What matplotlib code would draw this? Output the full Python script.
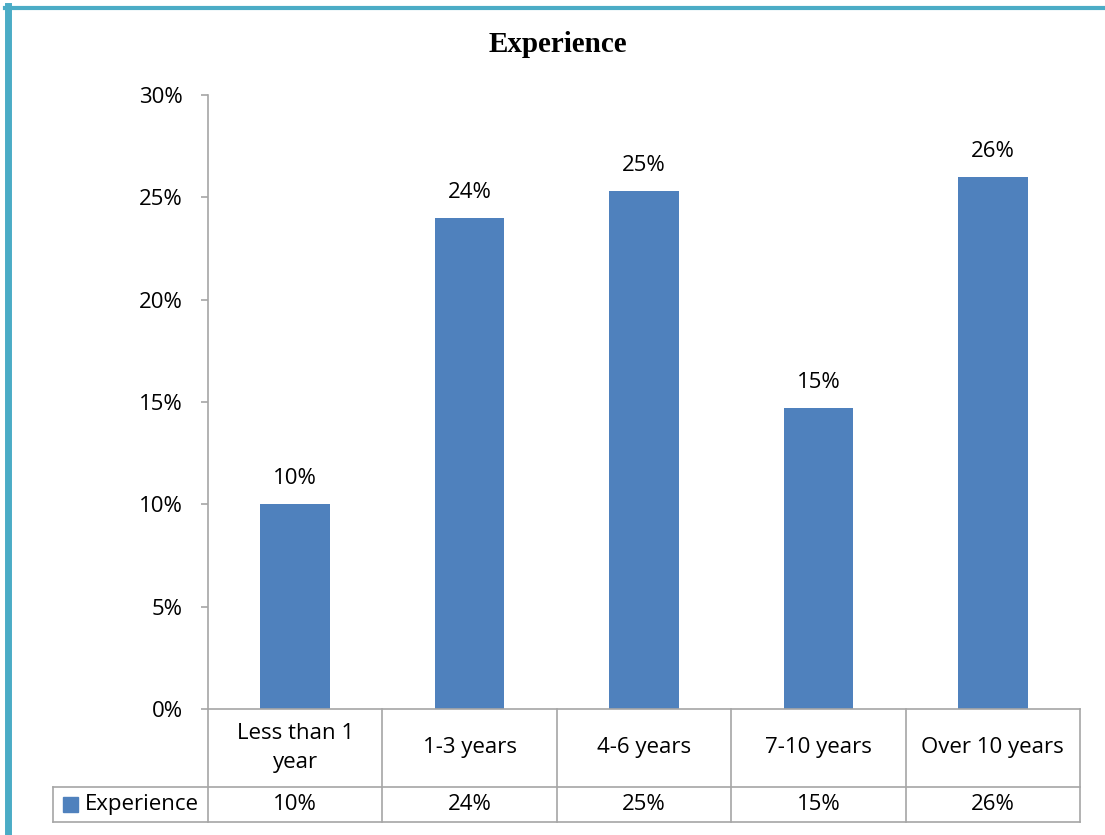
import numpy as np
import matplotlib
matplotlib.use("Agg")
import matplotlib.pyplot as plt
from matplotlib.patches import Rectangle
from matplotlib.lines import Line2D

plt.rcParams['font.family'] = ['Open Sans', 'DejaVu Sans']

categories = ["Less than 1\nyear", "1-3 years", "4-6 years", "7-10 years", "Over 10 years"]
values = [0.10, 0.24, 0.253, 0.147, 0.26]
series_name = "Experience"
yticks = [0, 0.05, 0.10, 0.15, 0.20, 0.25, 0.30]

bar_color = "#4F81BD"
grid_gray = "#A6A6A6"

W, H = 1105, 835
fig = plt.figure(figsize=(W / 100, H / 100), dpi=100)

# teal frame (only left and top edges show in the crop)
fig.add_artist(Line2D([7.5 / W, 7.5 / W], [0, 1 - 6 / H], color="#4BACC6", lw=5, transform=fig.transFigure))
fig.add_artist(Line2D([5 / W, 1], [1 - 8 / H, 1 - 8 / H], color="#4BACC6", lw=3, transform=fig.transFigure))

ax = fig.add_axes([208 / W, 1 - 709 / H, 872 / W, 614 / H])
x = np.arange(len(categories))
bars = ax.bar(x, values, width=0.4, color=bar_color)
ax.set_xlim(-0.5, len(categories) - 0.5)
ax.set_ylim(0, 0.30)
ax.set_yticks(yticks)
ax.set_yticklabels([f"{int(round(t * 100))}%" for t in yticks], fontsize=16)
ax.tick_params(axis='y', length=5, width=1.2, color=grid_gray, pad=13)
ax.set_xticks([])
for s in ["top", "right", "bottom"]:
    ax.spines[s].set_visible(False)
ax.spines["left"].set_color(grid_gray)
ax.spines["left"].set_linewidth(1.2)

labels = [f"{round(v * 100):.0f}%" for v in values]
for xi, v, lab in zip(x, values, labels):
    ax.annotate(lab, (xi, v), xytext=(0, 14.5), textcoords="offset points",
                ha="center", va="baseline", fontsize=16)

# data table below the axis
ht = -78 / 614
hb = -113 / 614
lab_left = -155 / 872
xt = ax.get_xaxis_transform()
kw = dict(color=grid_gray, lw=1.2, clip_on=False)
ax.plot([0, 1], [0, 0], transform=ax.transAxes, **kw)
ax.plot([lab_left, 1], [ht, ht], transform=ax.transAxes, **kw)
ax.plot([lab_left, 1], [hb, hb], transform=ax.transAxes, **kw)
ax.plot([lab_left, lab_left], [ht, hb], transform=ax.transAxes, **kw)
for b in np.arange(len(categories) + 1) - 0.5:
    ax.plot([b, b], [0, hb], transform=xt, **kw)

for xi, cat, lab in zip(x, categories, labels):
    ax.text(xi, ht / 2, cat, transform=xt, ha="center", va="center", fontsize=16, linespacing=1.5)
    ax.text(xi, (ht + hb) / 2, lab, transform=xt, ha="center", va="center", fontsize=16)

ax.add_patch(Rectangle((lab_left + 10 / 872, (ht + hb) / 2 - 7.5 / 614), 15 / 872, 15 / 614,
                       transform=ax.transAxes, color=bar_color, clip_on=False))
ax.text(lab_left + 32 / 872, (ht + hb) / 2, series_name, transform=ax.transAxes,
        ha="left", va="center", fontsize=16)

fig.text(558 / W, 1 - 45 / H, "Experience", ha="center", va="center",
         fontsize=21, fontweight="bold", family="Liberation Serif")

fig.savefig("out.png", dpi=100)
